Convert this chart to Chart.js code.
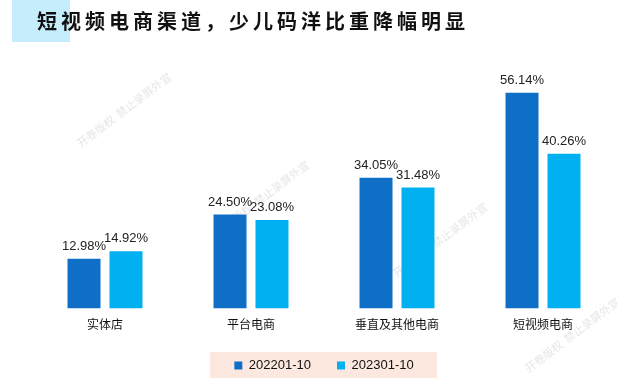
<!DOCTYPE html>
<html>
<head>
<meta charset="utf-8">
<script src="https://cdn.jsdelivr.net/npm/chart.js@4.4.1/dist/chart.umd.min.js"></script>
<style>
  html, body { margin: 0; padding: 0; background: #fff; }
  #wrap { width: 617px; height: 389px; position: relative; }
</style>
</head>
<body>
<div id="wrap"><canvas id="myChart"></canvas></div>
<script>
const categories = ['实体店', '平台电商', '垂直及其他电商', '短视频电商'];
const seriesNames = ['202201-10', '202301-10'];
const values2022 = [12.98, 24.50, 34.05, 56.14];
const values2023 = [14.92, 23.08, 31.48, 40.26];
const titleText = '短视频电商渠道，少儿码洋比重降幅明显';
const watermark = '开卷版权  禁止录屏外宣';

const FONT = '"Noto Sans CJK SC", "Liberation Sans", Arial, sans-serif';

// 标题 + 图例底色 + 水印
const decorPlugin = {
  id: 'decor',
  beforeDraw(chart) {
    const ctx = chart.ctx;
    ctx.save();
    ctx.fillStyle = '#C6EDFC';
    ctx.fillRect(12, 0, 58, 42);
    ctx.fillStyle = '#111';
    ctx.font = 'bold 20px ' + FONT;
    ctx.textBaseline = 'middle';
    ctx.letterSpacing = '4px';
    ctx.fillText(titleText, 37, 21);
    ctx.restore();

    ctx.save();
    ctx.fillStyle = '#FCE8DE';
    ctx.fillRect(210, 352, 227, 26);
    ctx.restore();

    ctx.save();
    ctx.fillStyle = 'rgba(180,180,180,0.35)';
    ctx.font = '11px ' + FONT;
    ctx.textAlign = 'center';
    ctx.textBaseline = 'middle';
    [[124, 110], [262, 198], [440, 240], [572, 335]].forEach(([x, y]) => {
      ctx.save();
      ctx.translate(x, y);
      ctx.rotate(-37 * Math.PI / 180);
      ctx.fillText(watermark, 0, 0);
      ctx.restore();
    });
    ctx.restore();
  }
};

// 数据标签
const valueLabels = {
  id: 'valueLabels',
  afterDatasetsDraw(chart) {
    const ctx = chart.ctx;
    ctx.save();
    ctx.font = '13px "Liberation Sans", Arial, sans-serif';
    ctx.fillStyle = '#222';
    ctx.textAlign = 'center';
    ctx.textBaseline = 'bottom';
    chart.data.datasets.forEach((ds, i) => {
      chart.getDatasetMeta(i).data.forEach((bar, j) => {
        ctx.fillText(ds.data[j].toFixed(2) + '%', bar.x, bar.y - 6);
      });
    });
    ctx.restore();
  }
};

new Chart(document.getElementById('myChart'), {
  type: 'bar',
  data: {
    labels: categories,
    datasets: [
      { label: seriesNames[0], data: values2022, backgroundColor: '#0F6FC6' },
      { label: seriesNames[1], data: values2023, backgroundColor: '#00B0F0' }
    ]
  },
  options: {
    responsive: true,
    maintainAspectRatio: false,
    animation: false,
    categoryPercentage: 0.575,
    barPercentage: 0.786,
    layout: { padding: { top: 78, left: 32, right: 1, bottom: 7 } },
    plugins: {
      legend: {
        position: 'bottom',
        labels: {
          boxWidth: 8,
          boxHeight: 8,
          color: '#111',
          font: { size: 13, family: '"Liberation Sans", Arial, sans-serif' },
          padding: 26
        }
      },
      title: { display: false },
      tooltip: { enabled: false }
    },
    scales: {
      x: {
        grid: { display: false },
        border: { display: false },
        ticks: { color: '#111', font: { size: 12, family: FONT }, padding: 1 }
      },
      y: {
        display: false,
        min: 0,
        max: 60
      }
    }
  },
  plugins: [decorPlugin, valueLabels]
});
</script>
</body>
</html>
